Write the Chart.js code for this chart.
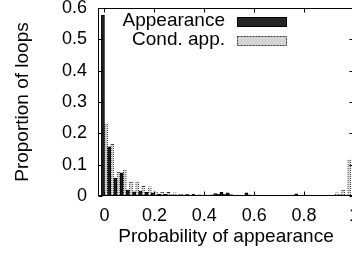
<!DOCTYPE html>
<html>
<head>
<meta charset="utf-8">
<script src="https://cdn.jsdelivr.net/npm/chart.js@4"></script>
<style>
  html, body { margin: 0; padding: 0; background: #fff; overflow: hidden; }
  #wrap { width: 359px; height: 258px; }
</style>
</head>
<body>
<div id="wrap"><canvas id="histChart"></canvas></div>
<script>
// bin centres (width 0.025)
var binCenters = [0, 0.025, 0.05, 0.075, 0.1, 0.125, 0.15, 0.175, 0.2, 0.225,
  0.25, 0.275, 0.3, 0.325, 0.35, 0.375, 0.4, 0.425, 0.45, 0.475,
  0.5, 0.525, 0.55, 0.575, 0.6, 0.625, 0.65, 0.675, 0.7, 0.725,
  0.75, 0.775, 0.8, 0.825, 0.85, 0.875, 0.9, 0.925, 0.95, 0.975];

var appearance = [0.578, 0.157, 0.057, 0.074, 0.019, 0.013, 0.016, 0.012, 0.010, 0.006,
  0.005, 0.004, 0.003, 0.003, 0.002, 0.002, 0.002, 0.003, 0.008, 0.012,
  0.010, 0.002, 0.001, 0.010, 0.001, 0.001, 0.001, 0.001, 0.001, 0.001,
  0.001, 0.007, 0.001, 0.001, 0.001, 0.001, 0.001, 0.002, 0.004, 0.003];

var condApp = [0.233, 0.166, 0.077, 0.086, 0.045, 0.048, 0.032, 0.029, 0.016, 0.013,
  0.012, 0.010, 0.008, 0.006, 0.005, 0.004, 0.003, 0.004, 0.005, 0.006,
  0.008, 0.003, 0.002, 0.004, 0.002, 0.003, 0.002, 0.002, 0.002, 0.002,
  0.003, 0.002, 0.002, 0.003, 0.002, 0.002, 0.003, 0.010, 0.020, 0.118];

var xTicks = [0, 0.2, 0.4, 0.6, 0.8, 1];
var yTicks = [0, 0.1, 0.2, 0.3, 0.4, 0.5, 0.6];

Chart.defaults.font.family = "'Liberation Sans', Arial, sans-serif";
Chart.defaults.color = '#000';

function dottedPattern() {
  var c = document.createElement('canvas');
  c.width = 1; c.height = 2;
  var g = c.getContext('2d');
  g.fillStyle = '#fff'; g.fillRect(0, 0, 1, 2);
  g.fillStyle = '#222'; g.fillRect(0, 0, 1, 1);
  return g.createPattern(c, 'repeat');
}

function toPoints(vals) {
  return binCenters.map(function (x, i) { return { x: x, y: vals[i] }; });
}

function plainLabel(v) { return String(v); }

// gnuplot style frame with inward ticks on all four sides
var frameTicks = {
  id: 'frameTicks',
  afterDraw: function (chart) {
    var ctx = chart.ctx, a = chart.chartArea;
    var xs = chart.scales.x, ys = chart.scales.y;
    var L = Math.round(a.left) + 0.5, R = Math.round(a.right) - 0.5;
    var T = Math.round(a.top) + 0.5, B = Math.round(a.bottom) - 0.5;
    ctx.save();
    ctx.strokeStyle = '#000';
    ctx.lineWidth = 1;
    ctx.strokeRect(L, T, R - L, B - T);
    ctx.beginPath();
    xTicks.forEach(function (v) {
      var px = Math.round(xs.getPixelForValue(v)) + 0.5;
      ctx.moveTo(px, B); ctx.lineTo(px, B - 4);
      ctx.moveTo(px, T); ctx.lineTo(px, T + 4);
    });
    yTicks.forEach(function (v) {
      var py = Math.round(ys.getPixelForValue(v)) + 0.5;
      ctx.moveTo(L, py); ctx.lineTo(L + 4, py);
      ctx.moveTo(R, py); ctx.lineTo(R - 4, py);
    });
    ctx.stroke();
    ctx.restore();
  }
};

// key in the top right, text then sample box
var keyBox = {
  id: 'keyBox',
  afterDraw: function (chart) {
    var ctx = chart.ctx, a = chart.chartArea;
    var textRight = a.left + 127, boxLeft = a.left + 139;
    var rows = [a.top + 13, a.top + 32];
    ctx.save();
    ctx.font = "19px 'Liberation Sans', Arial, sans-serif";
    ctx.textAlign = 'right';
    ctx.textBaseline = 'middle';
    ctx.fillStyle = '#000';
    chart.data.datasets.forEach(function (ds, i) {
      ctx.fillText(ds.label, textRight, rows[i]);
      var y0 = Math.round(rows[i] - 4.5) + 0.5;
      ctx.fillStyle = i === 0 ? '#262626' : '#d4d4d4';
      ctx.fillRect(boxLeft, y0, 50, 9);
      ctx.strokeStyle = i === 0 ? '#000' : '#333';
      ctx.setLineDash(i === 0 ? [] : [2, 1]);
      ctx.lineWidth = 1;
      ctx.strokeRect(boxLeft + 0.5, y0, 49, 9);
      ctx.setLineDash([]);
      ctx.fillStyle = '#000';
    });
    ctx.restore();
  }
};

var ctx = document.getElementById('histChart');
var histChart = new Chart(ctx, {
  type: 'bar',
  data: {
    datasets: [{
      label: 'Appearance',
      data: toPoints(appearance),
      backgroundColor: '#1e1e1e',
      borderColor: '#000',
      borderWidth: 1,
      barPercentage: 1,
      categoryPercentage: 1
    }, {
      label: 'Cond. app.',
      data: toPoints(condApp),
      backgroundColor: '#cfcfcf',
      borderColor: dottedPattern(),
      borderWidth: 1,
      barPercentage: 1,
      categoryPercentage: 1
    }]
  },
  options: {
    animation: false,
    responsive: true,
    maintainAspectRatio: false,
    layout: { padding: 0 },
    plugins: {
      legend: { display: false },
      tooltip: { enabled: false }
    },
    scales: {
      x: {
        type: 'linear',
        min: -0.026,
        max: 1,
        offset: false,
        grid: { display: false, drawTicks: true, tickLength: 11, offset: false },
        border: { display: false },
        afterBuildTicks: function (s) { s.ticks = xTicks.map(function (v) { return { value: v }; }); },
        afterFit: function (s) { s.height = 62; },
        ticks: { font: { size: 18, lineHeight: 1 }, padding: 0, maxRotation: 0, autoSkip: false, callback: plainLabel },
        title: { display: true, text: 'Probability of appearance', font: { size: 19 }, padding: { top: 0, bottom: 10 } }
      },
      y: {
        min: 0,
        max: 0.6,
        grid: { display: false, drawTicks: true, tickLength: 11 },
        border: { display: false },
        afterBuildTicks: function (s) { s.ticks = yTicks.map(function (v) { return { value: v }; }); },
        afterFit: function (s) { s.width = 98; },
        ticks: { font: { size: 18, lineHeight: 0.9 }, padding: 0, callback: plainLabel },
        title: { display: true, text: 'Proportion of loops', font: { size: 19 }, padding: { top: 11, bottom: 0 } }
      }
    }
  },
  plugins: [frameTicks, keyBox]
});
</script>
</body>
</html>
